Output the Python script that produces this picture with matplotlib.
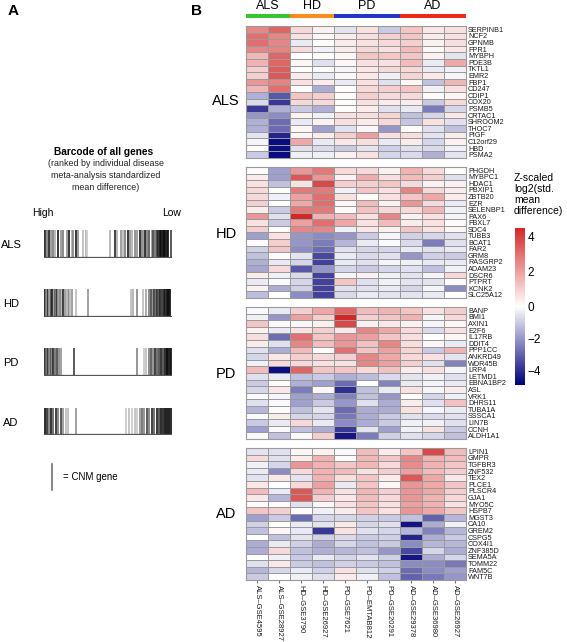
import numpy as np
import matplotlib.pyplot as plt
from matplotlib.colors import LinearSegmentedColormap, TwoSlopeNorm
from matplotlib.cm import ScalarMappable

plt.rcParams['font.family'] = ['Liberation Sans', 'DejaVu Sans']

# ---- data -------------------------------------------------------------
columns = ["ALS–GSE4595", "ALS–GSE28927", "HD–GSE3790", "HD–GSE26927",
           "PD–GSE7621", "PD–EMTAB812", "PD–GSE20291", "AD–GSE29378",
           "AD–GSE36980", "AD–GSE26927"]
groups = ["ALS", "HD", "PD", "AD"]
group_cols = [(0, 2), (2, 4), (4, 7), (7, 10)]
group_colors = ["#35C435", "#FF8A1E", "#2236C8", "#EC2A1C"]

genes_als = ["SERPINB1", "NCF2", "GPNMB", "FPR1", "MYBPH", "PDE3B", "TKTL1",
             "EMR2", "FBP1", "CD247", "CDIP1", "COX20", "PSMB5", "CRTAC1",
             "SHROOM2", "THOC7", "PIGF", "C12orf29", "HBD", "PSMA2"]
vals_als = [
    [2.5, 3.2, 0.8, 0.3, -0.5, 0.6, -1.0, 1.2, 0.5, 0.6],
    [3.0, 2.5, 0.6, 0.2, 0.4, 0.7, 1.0, 1.2, 0.4, 0.6],
    [3.0, 2.5, -0.4, 0.1, 0.4, 0.6, 0.8, 1.0, 0.3, 0.7],
    [2.5, 2.6, 0.8, -0.3, 0.4, 0.8, 0.6, 1.4, 0.2, 0.5],
    [1.5, 3.2, 0.0, 0.1, 0.2, 1.2, 1.2, 1.2, 0.3, -0.5],
    [1.6, 3.2, 0.2, -0.6, 0.2, 0.6, 0.6, 1.4, -0.4, 1.8],
    [1.0, 3.4, 0.1, 0.1, -0.2, 0.5, 0.8, 0.8, -0.4, -0.3],
    [1.0, 3.5, 0.4, -0.4, 0.2, 0.5, -0.3, 0.9, 0.5, -0.2],
    [2.2, 2.6, 0.6, 0.4, -0.4, 0.6, -0.6, 0.2, -1.2, 1.5],
    [1.5, 3.0, 0.1, -1.6, 0.1, 0.8, 1.0, 1.2, -0.3, 0.6],
    [-1.5, -3.2, 1.2, 1.0, 0.1, 1.0, 0.8, 0.8, 0.1, 0.2],
    [-0.7, -3.8, 0.8, 0.8, 0.1, 0.6, 0.4, 0.4, -1.0, 0.8],
    [-3.8, -1.5, -1.0, -1.5, 0.1, 0.4, -0.6, -0.4, -2.5, -0.8],
    [-2.0, -2.2, 0.3, -0.3, 0.6, 0.7, 0.9, -1.2, -0.8, 0.5],
    [-1.5, -2.8, -0.4, 0.3, 0.7, 0.4, 0.8, -1.1, 0.6, -0.6],
    [-1.5, -2.8, 0.2, -1.8, -0.6, 0.2, -2.0, 0.1, -0.6, -1.2],
    [-0.5, -4.2, 0.2, 0.4, 1.0, 2.0, 0.6, 0.7, -0.5, 0.4],
    [-0.2, -4.7, 1.8, -0.4, 0.5, 0.7, -0.4, 0.4, -0.8, 0.3],
    [0.1, -4.6, -0.6, -0.7, -1.0, -0.5, -0.9, -0.6, -0.7, -0.3],
    [-1.0, -4.7, -0.3, -0.3, 0.3, 0.6, -0.8, -0.7, -1.5, -0.5],
]

genes_hd = ["PHGDH", "MYBPC1", "HDAC1", "PBXIP1", "ZBTB20", "EZR", "SELENBP1",
            "PAX6", "FBXL7", "SDC4", "TUBB3", "BCAT1", "FAR2", "GRM8",
            "RASGRP2", "ADAM23", "DSCR6", "PTPRT", "KCNK2", "SLC25A12"]
vals_hd = [
    [0.1, -1.8, 2.2, 2.8, 0.8, 0.8, 0.3, 1.6, 0.8, 0.1],
    [0.4, -1.8, 3.5, 2.2, 0.3, 1.7, 0.7, 1.4, 1.0, -0.6],
    [0.6, -1.2, 0.6, 3.8, 1.0, 1.0, 1.2, 0.8, 0.3, 0.3],
    [0.8, 0.1, 2.8, 2.8, -0.3, 1.2, 0.6, 2.6, 0.8, 0.4],
    [0.8, -0.3, 2.0, 3.0, 0.6, 0.1, 0.6, 1.2, 1.8, 0.4],
    [1.0, 0.0, 1.8, 3.0, 0.2, 1.4, 0.3, 2.2, 0.8, -0.4],
    [0.4, -1.0, 2.8, 2.8, -0.1, 1.3, 0.8, 0.8, 1.5, -0.3],
    [2.2, -0.6, 4.5, 1.6, 1.4, 0.6, 2.5, 0.3, 0.6, -0.2],
    [0.6, -1.0, 2.0, 3.0, 1.8, 0.6, 1.4, 0.4, 0.6, 0.1],
    [1.0, 0.1, 2.5, 2.5, -0.3, 0.5, 0.3, 1.2, 0.6, 0.2],
    [-1.8, 0.6, -2.0, -2.2, -2.0, -1.0, -0.2, -0.9, -0.8, -0.6],
    [0.1, 1.0, -2.0, -2.5, -1.4, -0.4, -0.1, -0.7, -2.5, -0.6],
    [-0.9, 1.2, -2.2, -2.8, -0.6, -0.8, -0.8, -0.4, -0.6, -0.4],
    [-1.2, 0.1, -0.5, -3.5, -0.4, -0.7, -0.6, -2.0, -0.9, -1.0],
    [-1.5, -0.4, -0.8, -3.6, -0.4, -0.6, -0.2, -0.3, -0.4, -0.4],
    [-1.7, 0.8, -3.2, -2.0, -0.8, -1.0, -0.8, -0.6, -1.2, -0.3],
    [0.4, -0.3, -0.7, -3.6, -0.2, 0.3, -0.3, -0.5, -0.2, 0.8],
    [-0.4, -0.1, -0.8, -3.6, 1.2, -0.6, -0.3, -0.5, -0.5, 0.1],
    [0.3, -1.6, -0.9, -3.6, -0.6, -0.6, -0.4, -0.8, -0.2, -2.2],
    [-1.3, 0.0, -2.2, -3.6, -0.7, -0.4, -0.5, -0.5, -0.4, 0.0],
]

genes_pd = ["BANP", "BMI1", "AXIN1", "E2F6", "IL17RB", "DDIT4", "PPP1CC",
            "ANKRD49", "WDR45B", "LRP4", "LETMD1", "EBNA1BP2", "ASL", "VRK1",
            "DHRS11", "TUBA1A", "SSSCA1", "LIN7B", "CCNH", "ALDH1A1"]
vals_pd = [
    [-0.1, -0.4, 1.0, 1.8, 3.2, 1.4, 1.6, 1.2, 0.6, 1.0],
    [-0.3, -2.0, 2.0, 1.0, 4.5, 1.0, 1.2, 1.6, -0.2, 0.8],
    [1.2, -0.1, 0.2, 0.3, 3.8, 0.3, 0.5, 0.3, -0.2, 0.2],
    [0.3, -0.4, 0.6, 1.0, 0.5, 2.5, 1.8, 0.8, -0.7, 0.6],
    [0.7, -2.8, 3.0, 1.2, 2.2, 2.0, 1.2, 0.7, 0.0, 0.2],
    [0.4, -0.6, 2.5, 1.4, 2.2, 1.3, 2.5, 0.7, 0.2, -0.4],
    [-0.6, -1.6, 1.4, 0.1, 3.0, 1.2, 2.0, 0.9, -1.0, 1.6],
    [-0.8, 0.5, 1.0, 0.8, 1.0, 2.5, 1.8, 0.8, 0.6, -0.5],
    [-0.3, 0.8, 0.8, 0.6, 0.6, 2.5, 2.0, 1.0, -0.6, -2.4],
    [1.4, -4.6, 3.2, 1.2, 1.2, 0.8, 1.3, 0.4, 0.6, -0.2],
    [-0.6, -0.4, -1.2, -1.0, -1.5, -1.3, -0.7, -0.5, -0.3, -0.6],
    [-1.0, 0.1, -1.5, -1.8, -2.8, 0.0, -2.4, -0.4, -0.2, -0.4],
    [-0.8, 0.5, -2.5, 0.2, -4.0, -1.2, -0.4, 0.6, -0.2, 0.4],
    [-0.1, -0.2, -1.8, -1.6, -2.4, -1.2, -2.0, 0.0, -0.8, -0.3],
    [-0.6, -0.1, -1.8, -1.0, -2.0, -0.6, -1.6, 0.4, -0.6, 1.3],
    [-1.4, 0.1, -1.2, -0.5, -2.8, -1.6, -1.6, 0.6, -0.2, -0.4],
    [-0.1, 0.4, -0.8, -0.8, -2.6, -1.6, -1.0, -0.6, -0.7, -0.6],
    [-1.0, -0.4, 0.8, -0.4, -2.2, -1.6, -1.0, -0.3, -0.3, -0.6],
    [-1.8, -0.1, -1.2, -1.6, -3.8, -0.5, -1.8, -0.3, 0.6, -1.0],
    [-0.1, -1.2, -0.1, 1.0, -4.5, -2.5, -0.9, -0.6, -0.8, -1.2],
]

genes_ad = ["LPIN1", "GMPR", "TGFBR3", "ZNF532", "TEX2", "PLCE1", "PLSCR4",
            "GJA1", "MYO5C", "HSPB7", "MGST3", "CA10", "GREM2", "CSPG5",
            "COX4I1", "ZNF385D", "SEMA5A", "TOMM22", "FAM5C", "WNT7B"]
vals_ad = [
    [-0.5, -0.6, 0.2, 0.3, -0.1, 1.4, 0.4, 1.2, 3.8, 1.4],
    [0.8, -0.6, 0.4, 1.6, 0.1, 1.5, 1.2, 2.5, 1.6, 1.4],
    [-0.3, -0.8, 2.2, 1.6, 1.2, 1.5, 0.8, 2.4, 1.6, 1.2],
    [-0.4, -2.2, 0.8, 1.6, 1.4, 0.6, 1.0, 2.0, 1.4, 1.0],
    [-0.5, 0.5, -0.5, 1.6, 0.7, 1.2, 0.4, 3.5, 1.8, 0.5],
    [0.5, 0.0, 0.8, 2.0, -0.4, 1.2, 0.2, 2.2, 1.8, 1.2],
    [1.4, -0.4, 3.5, 1.6, 0.6, 1.5, 1.0, 2.2, 1.8, 1.0],
    [0.5, -1.4, 3.5, 1.0, 0.5, 1.4, 0.8, 2.2, 1.6, 0.8],
    [0.1, 0.1, -0.6, 0.2, 0.6, 1.2, 0.6, 2.0, 1.6, 0.6],
    [1.2, 1.0, 0.1, -0.3, 0.4, 1.2, 0.6, 2.2, 1.8, 1.2],
    [-1.8, -1.0, -2.8, -0.8, -0.8, -0.9, -1.0, -1.2, -3.0, -1.4],
    [-0.9, 0.0, -0.4, -0.5, 0.5, -0.8, -0.6, -4.5, -1.6, -0.3],
    [-1.2, 0.2, -0.4, -3.8, 0.6, -0.6, -0.8, -1.4, -2.4, -1.4],
    [0.0, -1.2, -0.5, -0.9, -0.7, -1.0, -0.9, -4.2, -1.6, -1.0],
    [-1.6, -0.4, -0.9, -1.6, -0.8, -1.2, -1.0, -2.2, -1.4, -1.4],
    [-1.6, 0.8, -1.2, -1.5, -1.4, -1.2, -2.0, -3.5, -0.8, -1.6],
    [0.0, -0.3, -1.0, -0.4, -0.8, -0.5, -0.9, -4.5, -1.6, -0.8],
    [-0.6, 0.5, -1.0, -1.2, -0.9, -1.0, -1.2, -2.2, -2.2, -2.6],
    [-1.4, -0.8, -0.4, -0.9, 0.6, -0.6, -0.9, -2.8, -2.2, -1.8],
    [-1.0, 0.0, -0.3, -0.6, 0.4, -0.3, -1.2, -3.0, -2.6, -2.0],
]

# barcode lines: rank position (0 = high, 1 = low) and grey level
bar_als_pos = [0.0, 0.008, 0.018, 0.037, 0.052, 0.071, 0.086, 0.11, 0.131,
               0.149, 0.175, 0.191, 0.215, 0.228, 0.249, 0.267, 0.306, 0.327,
               0.338, 0.516, 0.555, 0.568, 0.599, 0.615, 0.634, 0.654, 0.673,
               0.691, 0.712, 0.73, 0.751, 0.764, 0.777, 0.791, 0.804, 0.825,
               0.843, 0.856, 0.869, 0.882, 0.895, 0.91, 0.92, 0.93, 0.94,
               0.95, 0.96, 0.97, 0.992]
bar_als_grey = [0.1, 0.2, 0.5, 0.15, 0.6, 0.5, 0.7, 0.15, 0.6, 0.5, 0.6, 0.15,
                0.7, 0.55, 0.15, 0.6, 0.75, 0.7, 0.8, 0.7, 0.2, 0.7, 0.6, 0.75,
                0.5, 0.15, 0.6, 0.7, 0.55, 0.6, 0.15, 0.5, 0.6, 0.15, 0.5, 0.35,
                0.6, 0.3, 0.45, 0.25, 0.15, 0.05, 0.05, 0.05, 0.05, 0.05, 0.05,
                0.1, 0.3]
bar_hd_pos = [0.005, 0.015, 0.025, 0.04, 0.05, 0.06, 0.075, 0.085, 0.1, 0.11,
              0.12, 0.135, 0.15, 0.16, 0.175, 0.19, 0.205, 0.22, 0.25, 0.345,
              0.678, 0.7, 0.725, 0.777, 0.8, 0.82, 0.835, 0.85, 0.86, 0.875,
              0.885, 0.9, 0.91, 0.925, 0.94, 0.95, 0.96, 0.97, 0.98, 0.99]
bar_hd_grey = [0.1, 0.5, 0.15, 0.6, 0.3, 0.15, 0.6, 0.4, 0.15, 0.6, 0.5, 0.7,
               0.2, 0.6, 0.7, 0.5, 0.75, 0.6, 0.75, 0.6, 0.75, 0.7, 0.55, 0.75,
               0.65, 0.5, 0.3, 0.55, 0.25, 0.4, 0.2, 0.3, 0.15, 0.2, 0.1, 0.1,
               0.05, 0.05, 0.05, 0.1]
bar_pd_pos = [0.005, 0.015, 0.025, 0.035, 0.05, 0.06, 0.07, 0.085, 0.1, 0.115,
              0.13, 0.233, 0.73, 0.78, 0.8, 0.822, 0.84, 0.853, 0.871, 0.885,
              0.9, 0.918, 0.932, 0.945, 0.955, 0.965, 0.975, 0.985, 0.995]
bar_pd_grey = [0.15, 0.4, 0.15, 0.5, 0.3, 0.55, 0.2, 0.45, 0.3, 0.55, 0.6,
               0.3, 0.55, 0.8, 0.75, 0.5, 0.35, 0.55, 0.2, 0.4, 0.3, 0.15,
               0.3, 0.1, 0.2, 0.05, 0.05, 0.05, 0.1]
bar_ad_pos = [0.005, 0.018, 0.035, 0.055, 0.07, 0.09, 0.11, 0.128, 0.149,
              0.167, 0.188, 0.249, 0.641, 0.667, 0.688, 0.709, 0.73, 0.751,
              0.767, 0.785, 0.804, 0.825, 0.843, 0.862, 0.882, 0.903, 0.92,
              0.935, 0.95, 0.965, 0.98, 0.993]
bar_ad_grey = [0.1, 0.2, 0.5, 0.15, 0.4, 0.2, 0.5, 0.3, 0.6, 0.75, 0.75,
               0.6, 0.8, 0.75, 0.8, 0.75, 0.8, 0.6, 0.45, 0.55, 0.3, 0.5,
               0.2, 0.4, 0.15, 0.3, 0.1, 0.15, 0.05, 0.05, 0.05, 0.1]

# ---- layout helpers (pixel coordinates, origin top-left) --------------
W, H = 567, 642
fig = plt.figure(figsize=(W / 100, H / 100), dpi=100)


def ax_px(x0, y0, x1, y1):
    return fig.add_axes([x0 / W, 1 - y1 / H, (x1 - x0) / W, (y1 - y0) / H])


def txt(x, y, s, **kw):
    return fig.text(x / W, 1 - y / H, s, **kw)


cmap = LinearSegmentedColormap.from_list("bwr_navy",
                                         ["#00007C", "#FFFFFF", "#D42828"])
norm = TwoSlopeNorm(vmin=-4.9, vcenter=0, vmax=4.5)

# ---- panel A: barcodes ------------------------------------------------
txt(13, 11, "A", fontsize=11, fontweight="bold", ha="center", va="center")
txt(196, 11, "B", fontsize=11, fontweight="bold", ha="center", va="center")

txt(104, 152, "Barcode of all genes", fontsize=7.3, fontweight="bold",
    ha="center", va="center")
for i, line in enumerate(["(ranked by individual disease",
                          "meta-analysis standardized",
                          "mean difference)"]):
    txt(106, 164 + i * 11.5, line, fontsize=6.4, ha="center", va="center",
        color="#222222")
txt(43, 213, "High", fontsize=7.5, ha="center", va="center")
txt(172, 213, "Low", fontsize=7.5, ha="center", va="center")

barcodes = [("ALS", bar_als_pos, bar_als_grey, 230, 258),
            ("HD", bar_hd_pos, bar_hd_grey, 289, 317),
            ("PD", bar_pd_pos, bar_pd_grey, 348, 376),
            ("AD", bar_ad_pos, bar_ad_grey, 408, 435)]
for name, pos, grey, y0, y1 in barcodes:
    ax = ax_px(44, y0, 172, y1)
    ax.vlines(pos, 0, 1, colors=[str(g) for g in grey], lw=1.3)
    ax.axhline(0, color="#555555", lw=0.9)
    ax.set_xlim(-0.003, 1.003)
    ax.set_ylim(-0.02, 1)
    ax.axis("off")
    txt(11, (y0 + y1) / 2 + 1, name, fontsize=8, ha="center", va="center")

# legend for CNM gene
fig.add_artist(plt.Line2D([52 / W, 52 / W], [1 - 464 / H, 1 - 490 / H],
                          color="#666666", lw=1.1))
txt(63, 477, "= CNM gene", fontsize=7, ha="left", va="center")

# ---- panel B: heatmap -------------------------------------------------
hx0, hx1 = 246, 466
blocks = [("ALS", genes_als, vals_als, 26, 158, 101),
          ("HD", genes_hd, vals_hd, 167, 298, 234),
          ("PD", genes_pd, vals_pd, 307, 439, 374),
          ("AD", genes_ad, vals_ad, 448, 580, 514)]
for bi, (name, genes, vals, y0, y1, ylab) in enumerate(blocks):
    ax = ax_px(hx0, y0, hx1, y1)
    ax.pcolormesh(np.array(vals), cmap=cmap, norm=norm,
                  edgecolors="#9A9A9A", linewidth=0.6)
    ax.set_xlim(0, 10)
    ax.set_ylim(20, 0)
    ax.yaxis.tick_right()
    ax.set_yticks(np.arange(20) + 0.5)
    ax.set_yticklabels(genes, fontsize=5.2, color="#1a1a1a")
    ax.tick_params(axis="y", length=0, pad=1.5)
    for sp in ax.spines.values():
        sp.set_color("#9A9A9A")
        sp.set_linewidth(0.8)
    if bi == len(blocks) - 1:
        ax.set_xticks(np.arange(10) + 0.5)
        ax.set_xticklabels(columns, rotation=-90, fontsize=5.5,
                           color="#1a1a1a", va="top", ha="center")
        ax.tick_params(axis="x", length=2, pad=1.5, color="#777777")
    else:
        ax.set_xticks([])
    txt(226, ylab, name, fontsize=10.5, ha="center", va="center")

# group colour strip and labels on top
ax = ax_px(hx0, 14, hx1, 18)
for (c0, c1), col in zip(group_cols, group_colors):
    ax.axvspan(c0, c1, color=col, lw=0)
ax.set_xlim(0, 10)
ax.axis("off")
col_w = (hx1 - hx0) / 10
for g, (c0, c1) in zip(groups, group_cols):
    txt(hx0 + (c0 + c1) / 2 * col_w, 6, g, fontsize=9, ha="center",
        va="center")

# ---- colour bar -------------------------------------------------------
for i, line in enumerate(["Z-scaled", "log2(std.", "mean", "difference)"]):
    txt(514, 178 + i * 11, line, fontsize=7.5, ha="left", va="center")
cax = ax_px(515, 228, 525, 385)
sm = ScalarMappable(norm=norm, cmap=cmap)
cb = fig.colorbar(sm, cax=cax, ticks=[4, 2, 0, -2, -4])
cb.ax.set_yticklabels(["4", "2", "0", "\u22122", "\u22124"], fontsize=8.5)
cb.ax.tick_params(length=0, pad=2)
cb.outline.set_visible(False)

fig.savefig("out.png", dpi=100)
